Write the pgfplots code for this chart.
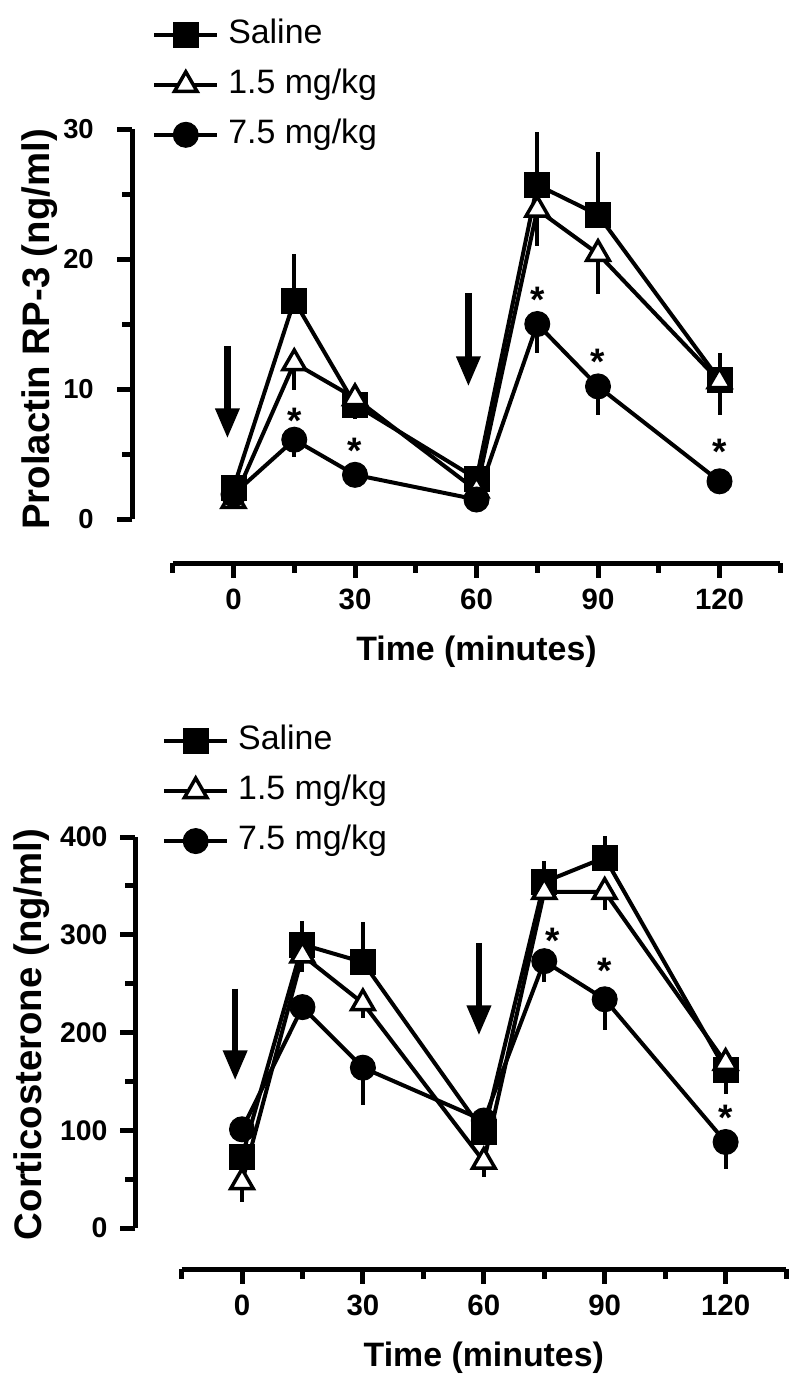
\documentclass[border=0pt]{standalone}
\usepackage{fontspec}
\setmainfont{Liberation Sans}
\usepackage{pgfplots}
\usepackage{pgfplotstable}
\pgfplotsset{compat=1.18}
\usetikzlibrary{arrows.meta}

% Prolactin
\pgfplotstableread{
t v e
0 2.4 0.4
15 16.8 3.6
30 8.8 0.6
60 3.1 0.6
75 25.7 4.1
90 23.4 4.8
120 10.7 2.1
}\PSal
\pgfplotstableread{
t v e
0 1.4 0.3
15 12.0 2.1
30 9.3 1.6
60 2.2 0.4
75 23.8 2.8
90 20.4 3.1
120 10.6 2.6
}\PLow
\pgfplotstableread{
t v e
0 1.9 0.3
15 6.1 1.3
30 3.4 0.3
60 1.5 0.3
75 15.0 2.2
90 10.2 2.2
120 2.9 0.3
}\PHigh
% Corticosterone
\pgfplotstableread{
t v e
0 73 8
15 290 24
30 272 41
60 98 10
75 354 21
90 379 22
120 162 6
}\CSal
\pgfplotstableread{
t v e
0 47 20
15 279 17
30 230 15
60 68 16
75 344 6
90 344 19
120 169 32
}\CLow
\pgfplotstableread{
t v e
0 101 6
15 226 8
30 164 38
60 110 8
75 273 21
90 234 31
120 88 28
}\CHigh

\tikzset{
  ast/.style={font=\fontsize{37}{40}\selectfont\bfseries, anchor=base, yshift=-20bp, inner sep=0pt},
  arr/.style={line width=6.5bp, -{Triangle[length=30bp, width=23bp]}},
  tk/.style={line width=5bp, black},
}
\pgfplotsset{
  prism/.style={
    enlargelimits=false, scale only axis, clip=false,
    major tick length=15bp, minor tick length=10bp,
    tick align=outside, tick style={black},
    /pgf/number format/assume math mode=true,
  },
  sal/.style={black, line width=4bp, mark=square*, mark size=12.5bp,
    mark options={solid, fill=black, line width=1bp}},
  low/.style={black, line width=4bp, mark=triangle*, mark size=13bp,
    mark options={solid, fill=white, line width=3.5bp}},
  high/.style={black, line width=4bp, mark=*, mark size=12.5bp,
    mark options={solid, fill=black, line width=1bp}},
  ebup/.style={only marks, mark=none, forget plot,
    error bars/.cd, y dir=plus, y explicit, error mark=none,
    error bar style={line width=4bp, black}},
  ebdn/.style={only marks, mark=none, forget plot,
    error bars/.cd, y dir=minus, y explicit, error mark=none,
    error bar style={line width=4bp, black}},
  leg/.style={
    legend image code/.code={\draw[mark repeat=2, mark phase=2, ##1]
      plot coordinates {(0bp,0bp) (31.5bp,0bp) (63bp,0bp)};},
    legend cell align=left,
    legend style={draw=none, fill=none, inner sep=0pt, column sep=9bp,
      row sep=17bp,
      font=\fontsize{34}{40}\selectfont,
      nodes={inner sep=0pt, text height=25bp, text depth=8bp}},
  },
  xax/.style={
    axis x line*=bottom, axis y line=none,
    prism, y=1bp, xmin=-15, xmax=135, ymin=0, ymax=1,
    every outer x axis line/.style={line width=5bp, black},
    xtick={0,30,60,90,120}, minor xtick={-15,15,45,75,105,135},
    xticklabel style={font=\fontsize{29.5}{34}\selectfont\bfseries, anchor=base, yshift=-31bp},
    xlabel={Time (minutes)},
    xlabel style={font=\fontsize{34}{40}\selectfont\bfseries, anchor=base,
      at={(axis description cs:0.5,0)}, yshift=-97bp},
  },
}

\begin{document}
\begin{tikzpicture}[x=1bp, y=1bp]
\useasboundingbox (0,0) rectangle (800,-1386);

% ---------------- Top panel: prolactin ----------------
\begin{axis}[axis x line=none, axis y line*=left, prism, leg,
  y axis line style={line width=5bp, black},
  at={(132.25bp,-519bp)}, anchor=south west,
  x=4.05bp, y=13.0bp, xmin=-25, xmax=135, ymin=0, ymax=30,
  ytick={0,10,20,30}, minor ytick={5,15,25},
  yticklabel style={font=\fontsize{27.5}{32}\selectfont\bfseries, anchor=east, xshift=-20bp},
  ylabel={Prolactin RP-3 (ng/ml)},
  ylabel style={font=\fontsize{38.5}{44}\selectfont\bfseries, rotate=0,
    at={(axis description cs:-0.1424,0.486)}, anchor=center},
  legend style={at={(axis cs:-20.1,33.4)}, anchor=west},
]
\pgfplotsinvokeforeach{0,10,20,30}{\draw[tk] (axis cs:-25,#1) -- ++(-15bp,0bp);}
\pgfplotsinvokeforeach{5,15,25}{\draw[tk] (axis cs:-25,#1) -- ++(-10bp,0bp);}
\addplot[ebup] table[x=t, y=v, y error=e] {\PSal};
\addplot[ebdn] table[x=t, y=v, y error=e] {\PLow};
\addplot[ebdn] table[x=t, y=v, y error=e] {\PHigh};
\addplot[sal] table[x=t, y=v] {\PSal};
\addlegendentry{Saline}
\addplot[low] table[x=t, y=v] {\PLow};
\addlegendentry{1.5 mg/kg}
\addplot[high] table[x=t, y=v] {\PHigh};
\addlegendentry{7.5 mg/kg}
\node[ast] at (axis cs:15,8.15) {*};
\node[ast] at (axis cs:30,5.84) {*};
\node[ast] at (axis cs:75,17.4) {*};
\node[ast] at (axis cs:90,12.64) {*};
\node[ast] at (axis cs:120,5.7) {*};
\draw[arr] (axis cs:-1.5,13.3) -- (axis cs:-1.5,6.2);
\draw[arr] (axis cs:58,17.4) -- (axis cs:58,10.2);
\end{axis}

\begin{axis}[xax, at={(172.75bp,-563bp)}, anchor=south west, x=4.05bp]
\pgfplotsinvokeforeach{0,30,60,90,120}{\draw[tk] (axis cs:#1,0) -- ++(0bp,-15bp);}
\pgfplotsinvokeforeach{-15,15,45,75,105,135}{\draw[tk] (axis cs:#1,0) -- ++(0bp,-10bp);}
\end{axis}

% ---------------- Bottom panel: corticosterone ----------------
\begin{axis}[axis x line=none, axis y line*=left, prism, leg,
  y axis line style={line width=5bp, black},
  at={(135bp,-1228bp)}, anchor=south west,
  x=4.03bp, y=0.9775bp, xmin=-26.55, xmax=135, ymin=0, ymax=400,
  ytick={0,100,200,300,400}, minor ytick={50,150,250,350},
  yticklabel style={font=\fontsize{28.5}{34}\selectfont\bfseries, anchor=east, xshift=-9bp},
  ylabel={Corticosterone (ng/ml)},
  ylabel style={font=\fontsize{38.5}{44}\selectfont\bfseries, rotate=0,
    at={(axis description cs:-0.158,0.495)}, anchor=center},
  legend style={at={(axis cs:-19.85,447)}, anchor=west},
]
\pgfplotsinvokeforeach{0,100,200,300,400}{\draw[tk] (axis cs:-26.55,#1) -- ++(-15bp,0bp);}
\pgfplotsinvokeforeach{50,150,250,350}{\draw[tk] (axis cs:-26.55,#1) -- ++(-10bp,0bp);}
\addplot[ebup] table[x=t, y=v, y error=e] {\CSal};
\addplot[ebdn] table[x=t, y=v, y error=e] {\CLow};
\addplot[ebdn] table[x=t, y=v, y error=e] {\CHigh};
\addplot[sal] table[x=t, y=v] {\CSal};
\addlegendentry{Saline}
\addplot[low] table[x=t, y=v] {\CLow};
\addlegendentry{1.5 mg/kg}
\addplot[high] table[x=t, y=v] {\CHigh};
\addlegendentry{7.5 mg/kg}
\node[ast] at (axis cs:77,301) {*};
\node[ast] at (axis cs:90,270.5) {*};
\node[ast] at (axis cs:120,120) {*};
\draw[arr] (axis cs:-1.7,245) -- (axis cs:-1.7,151);
\draw[arr] (axis cs:58.8,291.6) -- (axis cs:58.8,197);
\end{axis}

\begin{axis}[xax, at={(181.55bp,-1269bp)}, anchor=south west, x=4.03bp]
\pgfplotsinvokeforeach{0,30,60,90,120}{\draw[tk] (axis cs:#1,0) -- ++(0bp,-15bp);}
\pgfplotsinvokeforeach{-15,15,45,75,105,135}{\draw[tk] (axis cs:#1,0) -- ++(0bp,-10bp);}
\end{axis}

\end{tikzpicture}
\end{document}
